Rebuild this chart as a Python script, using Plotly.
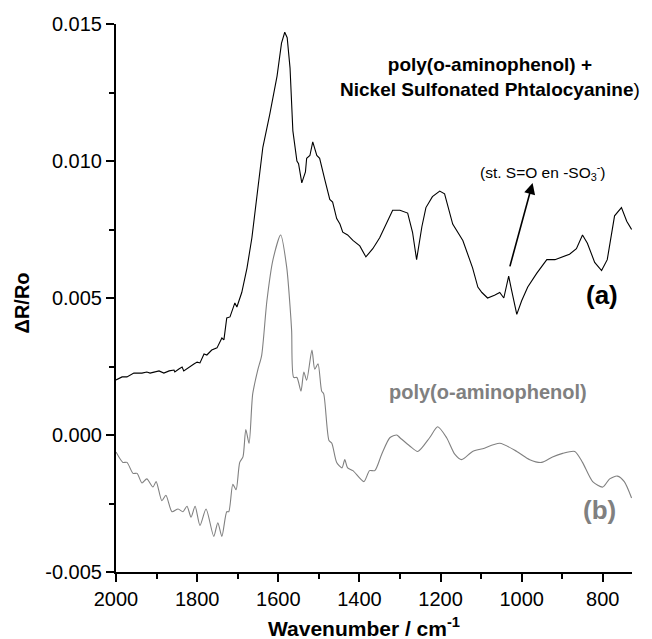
import plotly.graph_objects as go

# (a) poly(o-aminophenol) + NiSPc
wn_a = [2000, 1985, 1973, 1956, 1936, 1924, 1916, 1904, 1894, 1882, 1869, 1857, 1855, 1845,
        1837, 1833, 1820, 1808, 1800, 1793, 1783, 1776, 1764, 1751, 1739, 1734, 1727, 1719,
        1707, 1702, 1690, 1677, 1665, 1653, 1638, 1621, 1603, 1592, 1584, 1578,
        1571, 1564, 1554, 1550, 1542, 1533, 1530, 1522, 1515, 1505, 1498, 1485, 1473, 1466,
        1456, 1448, 1441, 1429, 1416, 1399, 1384, 1367, 1350, 1318, 1300, 1281, 1269, 1259,
        1246, 1236, 1220, 1202, 1190, 1170, 1145, 1121, 1108, 1098, 1084, 1067, 1054, 1044,
        1032, 1025, 1012, 1000, 985, 963, 938, 918, 899, 882, 865, 850, 838, 820, 803, 789,
        771, 754, 741, 729]
dr_a = [0.00201, 0.00212, 0.00212, 0.00226, 0.00226, 0.00230, 0.00226, 0.00230, 0.00234,
        0.00226, 0.00234, 0.00237, 0.00230, 0.00241, 0.00248, 0.00234, 0.00248, 0.00259,
        0.00266, 0.00263, 0.00296, 0.00292, 0.00310, 0.00318, 0.00354, 0.00347, 0.00427,
        0.00431, 0.00482, 0.00467, 0.00520, 0.0061, 0.0072, 0.0086, 0.0105, 0.0117, 0.0131,
        0.0143, 0.0147, 0.0145,
        0.0134, 0.0111, 0.0100, 0.0099, 0.0092, 0.0096, 0.0101, 0.0102, 0.0107, 0.0102,
        0.0101, 0.0093, 0.0086, 0.0085, 0.0079, 0.0077, 0.0074, 0.0073, 0.0071, 0.0069,
        0.0065, 0.0068, 0.0072, 0.0082, 0.0082, 0.0081, 0.0074, 0.0064, 0.0076, 0.0083,
        0.0087, 0.0089, 0.0088, 0.0077, 0.0071, 0.0061, 0.0054, 0.0052, 0.0050, 0.0051,
        0.0052, 0.0050, 0.0058, 0.0053, 0.0044, 0.0049, 0.0054, 0.0059, 0.0064, 0.0064,
        0.0065, 0.0066, 0.0068, 0.0073, 0.0070, 0.0063, 0.0060, 0.0064, 0.0080, 0.0083,
        0.0078, 0.0075]

# (b) poly(o-aminophenol)
wn_b = [2000, 1983, 1973, 1958, 1948, 1936, 1924, 1909, 1901, 1887, 1877, 1862, 1847, 1835,
        1825, 1815, 1805, 1793, 1778, 1759, 1749, 1739, 1727, 1722, 1712, 1704, 1695, 1687,
        1680, 1672, 1663, 1650, 1641, 1628, 1613, 1594, 1579, 1571, 1567, 1562, 1554, 1544,
        1537, 1530, 1517, 1510, 1502, 1493, 1488, 1475, 1468, 1456, 1443, 1436, 1429, 1416,
        1389, 1375, 1362, 1345, 1325, 1308, 1300, 1276, 1256, 1227, 1207, 1185, 1165, 1148,
        1121, 1096, 1054, 1012, 980, 951, 924, 899, 869, 850, 825, 800, 783, 764, 747, 729]
dr_b = [-0.00062, -0.0010, -0.0010, -0.0014, -0.0014, -0.00175, -0.0016, -0.0019, -0.0017,
        -0.0024, -0.0022, -0.0028, -0.0027, -0.0028, -0.0026, -0.0030, -0.0026, -0.0033,
        -0.0027, -0.0037, -0.0032, -0.0037, -0.0028, -0.0028, -0.0018, -0.0020, -0.0010,
        -0.0008, 0.0002, -0.0003, 0.0015, 0.0024, 0.0029, 0.0049, 0.0064, 0.0073, 0.0061,
        0.0047, 0.0038, 0.0021, 0.0021, 0.0016, 0.0023, 0.0020, 0.0031, 0.0024, 0.0026,
        0.0016, 0.0015, -0.0002, -0.0003, -0.0010, -0.0012, -0.0009, -0.0012, -0.0013,
        -0.0017, -0.0013, -0.0013, -0.0007, -0.0001, 0.0000, -0.0001, -0.0004, -0.0006,
        -0.0001, 0.0003, -0.0001, -0.0007, -0.0009, -0.0006, -0.0005, -0.0003, -0.0006,
        -0.0009, -0.0010, -0.0008, -0.00067, -0.0006, -0.0010, -0.0017, -0.0019, -0.0016,
        -0.0015, -0.0017, -0.0023]

x_tick_vals = [2000, 1800, 1600, 1400, 1200, 1000, 800]
x_tick_text = ["2000", "1800", "1600", "1400", "1200", "1000", "800"]
y_tick_vals = [-0.005, 0.0, 0.005, 0.010, 0.015]
y_tick_text = ["-0.005", "0.000", "0.005", "0.010", "0.015"]

FONT = "Liberation Sans, Arial, sans-serif"
GRAY = "#808080"

fig = go.Figure()
fig.add_trace(go.Scatter(x=wn_a, y=dr_a, mode="lines",
                         line=dict(color="black", width=1.1), showlegend=False))
fig.add_trace(go.Scatter(x=wn_b, y=dr_b, mode="lines", line_shape="spline",
                         line=dict(color=GRAY, width=1.1, smoothing=0.7), showlegend=False))

axis_common = dict(showline=True, linecolor="black", linewidth=2, mirror=False,
                   showgrid=False, zeroline=False, ticks="outside", ticklen=8,
                   tickwidth=2, tickcolor="black", automargin=False,
                   tickfont=dict(family=FONT, size=20, color="black"))

fig.update_xaxes(range=[2000, 728], tickvals=x_tick_vals, ticktext=x_tick_text,
                 minor=dict(ticks="outside", ticklen=5, tickwidth=2, tickcolor="black",
                            dtick=100, tick0=0, showgrid=False),
                 **axis_common)
fig.update_yaxes(range=[-0.005, 0.015], tickvals=y_tick_vals, ticktext=y_tick_text,
                 minor=dict(ticks="outside", ticklen=5, tickwidth=2, tickcolor="black",
                            tickvals=[-0.0025, 0.0025, 0.0075, 0.0125], showgrid=False),
                 **axis_common)

annotations = [
    dict(text="<b>poly(o-aminophenol) +</b><br><b>Nickel Sulfonated Phtalocyanine</b>)",
         x=1079, y=0.01305, xref="x", yref="y", showarrow=False,
         font=dict(family=FONT, size=19, color="black"), align="center"),
    dict(text="<b>(a)</b>", x=803, y=0.0051, xref="x", yref="y", showarrow=False,
         font=dict(family=FONT, size=26, color="black")),
    dict(text="<b>(b)</b>", x=808, y=-0.00274, xref="x", yref="y", showarrow=False,
         font=dict(family=FONT, size=26, color=GRAY)),
    dict(text="<b>poly(o-aminophenol)</b>", x=1084, y=0.00157, xref="x", yref="y",
         showarrow=False, font=dict(family=FONT, size=20, color=GRAY)),
    dict(text="(st. S=O en -SO<sub>3</sub><sup>-</sup>)", x=948, y=0.0096,
         xref="x", yref="y", showarrow=False,
         font=dict(family=FONT, size=15.5, color="black")),
    dict(text="", x=973, y=0.0092, ax=1030, ay=0.0061, xref="x", yref="y",
         axref="x", ayref="y", showarrow=True, arrowhead=2, arrowsize=1.4,
         arrowwidth=1.6, arrowcolor="black", standoff=0),
    dict(text="<b>ΔR/Ro</b>", x=0, y=0.49, xref="paper", yref="paper", xshift=-94,
         textangle=-90, showarrow=False, xanchor="center", yanchor="middle",
         font=dict(family=FONT, size=20, color="black")),
    dict(text="<b>Wavenumber / cm<sup>-1</sup></b>", x=0.48, y=0, xref="paper",
         yref="paper", yshift=-55, showarrow=False, xanchor="center", yanchor="middle",
         font=dict(family=FONT, size=21, color="black")),
]

fig.update_layout(width=644, height=631, margin=dict(l=108, r=20, t=16, b=67),
                  plot_bgcolor="white", paper_bgcolor="white",
                  annotations=annotations, showlegend=False)

fig.write_html("out.html")
